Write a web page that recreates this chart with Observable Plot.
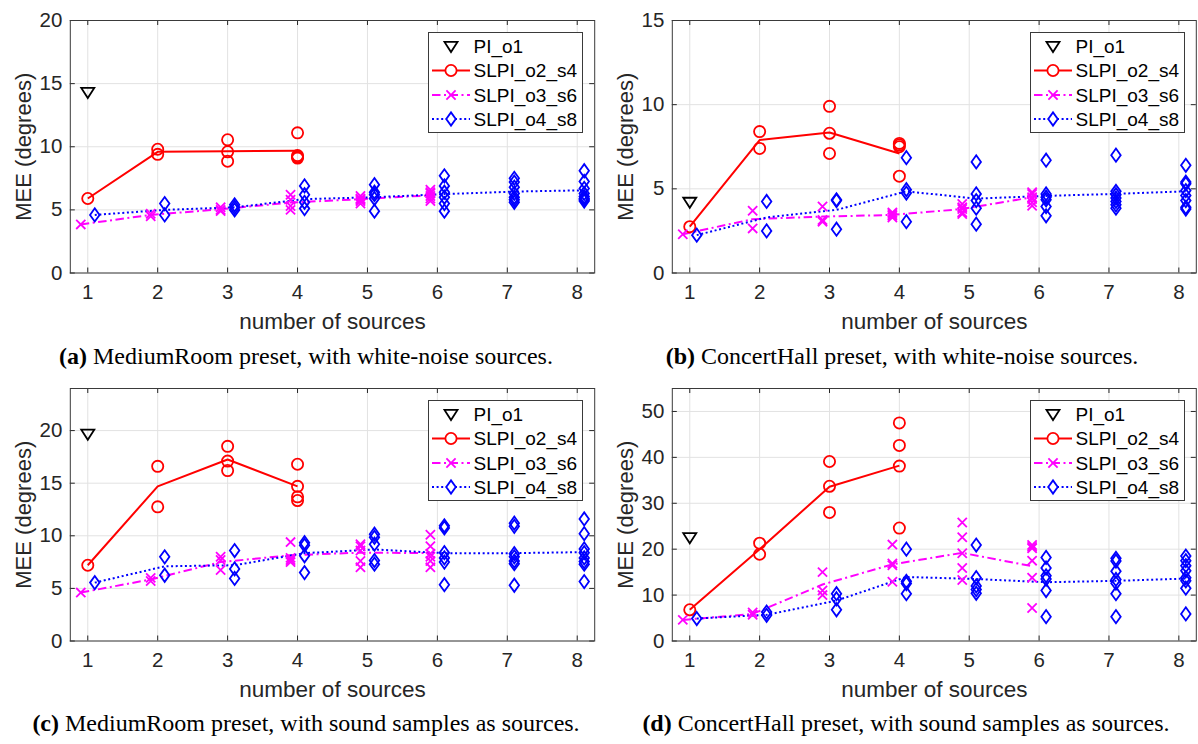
<!DOCTYPE html>
<html><head><meta charset="utf-8">
<script src="https://cdn.jsdelivr.net/npm/d3@7"></script>
<script src="https://cdn.jsdelivr.net/npm/@observablehq/plot@0.6"></script>
<style>
body{margin:0;background:#fff;}
#root{position:relative;width:1198px;height:744px;overflow:hidden;background:#fff;}
.panel{position:absolute;}
.cap{position:absolute;font-family:"Liberation Serif","Times New Roman",serif;font-size:24px;color:#000;white-space:nowrap;transform:translateX(-50%);line-height:1;}
</style></head><body><div id="root"></div>
<script>
// ---------- data ----------
const sources = [1,2,3,4,5,6,7,8];
const seriesNames = ["PI_o1","SLPI_o2_s4","SLPI_o3_s6","SLPI_o4_s8"];
const captions = [
  ["(a)", " MediumRoom preset, with white-noise sources."],
  ["(b)", " ConcertHall preset, with white-noise sources."],
  ["(c)", " MediumRoom preset, with sound samples as sources."],
  ["(d)", " ConcertHall preset, with sound samples as sources."]
];
const yTicksA = [0,5,10,15,20];
const yTicksB = [0,5,10,15];
const yTicksC = [0,5,10,15,20];
const yTicksD = [0,10,20,30,40,50];
const yMax = [20,15,24,55];

// (a) MediumRoom, white noise
const aPI = [14.3];
const aO2 = [[5.9],[9.8,9.4],[10.55,9.6,8.85],[11.1,9.3,9.2,9.1]];
const aO2mean = [5.9,9.6,9.65,9.68];
const aO3 = [[3.85],[4.7,4.5],[5.2,5.0,4.9],[6.2,5.8,5.3,5.0],[6.1,5.9,5.8,5.7,5.5],[6.6,6.4,6.3,6.1,5.9,5.7]];
const aO3mean = [3.85,4.6,5.05,5.58,5.85,6.15];
const aO4 = [[4.6],[5.5,4.6],[5.4,5.2,5.0],[6.9,6.2,5.6,5.1],[7.0,6.4,6.2,5.9,4.9],[7.7,6.9,6.4,6.0,5.5,4.9],[7.5,7.2,6.8,6.3,6.0,5.8,5.6],[8.1,7.25,6.7,6.3,6.05,5.9,5.8,5.7]];
const aO4mean = [4.6,5.0,5.2,5.85,6.0,6.25,6.45,6.55];

// (b) ConcertHall, white noise
const bPI = [4.2];
const bO2 = [[2.75],[8.4,7.4],[9.9,8.3,7.1],[7.7,7.6,7.5,5.75]];
const bO2mean = [2.75,7.9,8.35,7.1];
const bO3 = [[2.3],[3.7,2.65],[3.95,3.15,3.05],[3.6,3.5,3.4,3.3],[4.1,3.9,3.8,3.6,3.5],[4.8,4.7,4.5,4.4,4.2,4.0]];
const bO3mean = [2.3,3.2,3.35,3.45,3.8,4.5];
const bO4 = [[2.25],[4.25,2.5],[4.35,4.3,2.6],[6.85,4.95,4.75,3.05],[6.6,4.7,4.3,3.85,2.9],[6.7,4.7,4.5,4.35,3.95,3.4],[7.0,4.85,4.65,4.45,4.25,4.05,3.85],[6.4,5.4,5.3,4.9,4.6,4.3,3.9,3.8]];
const bO4mean = [2.25,3.3,3.75,4.85,4.42,4.58,4.7,4.85];

// (c) MediumRoom, sound samples
const cPI = [19.65];
const cO2 = [[7.2],[16.6,12.75],[18.5,17.1,16.2],[16.8,14.7,13.7,13.35]];
const cO2mean = [7.2,14.7,17.25,14.7];
const cO3 = [[4.6],[6.0,5.7],[8.0,7.7,6.75],[9.4,7.9,7.7,7.5],[9.2,9.0,8.6,7.6,7.0],[10.1,9.0,8.3,8.0,7.6,7.0]];
const cO3mean = [4.6,5.85,7.5,8.15,8.4,8.35];
const cO4 = [[5.55],[8.0,6.25],[8.6,6.85,5.95],[9.35,9.1,8.1,6.5],[10.15,9.85,9.2,7.65,7.3],[10.95,10.75,8.4,7.9,7.5,5.35],[11.2,10.9,8.3,8.0,7.6,7.35,5.3],[11.6,10.2,8.75,8.4,7.9,7.55,7.3,5.65]];
const cO4mean = [5.55,7.1,7.2,8.35,8.7,8.35,8.35,8.45];

// (d) ConcertHall, sound samples
const dPI = [22.5];
const dO2 = [[6.8],[21.3,18.9],[39.1,33.7,28.0],[47.5,42.6,38.1,24.6]];
const dO2mean = [6.8,20.0,33.6,38.2];
const dO3 = [[4.6],[6.2,5.7],[15.0,11.0,10.0],[21.0,16.9,16.5,12.9],[25.8,22.6,19.1,15.9,13.3],[20.9,20.5,20.2,17.5,13.8,7.2]];
const dO3mean = [4.6,5.9,12.3,16.7,19.2,16.3];
const dO4 = [[4.9],[6.3,5.6],[10.3,9.2,6.8],[20.0,13.0,12.5,10.3],[20.9,13.8,12.0,11.2,10.4],[18.2,15.9,14.2,13.5,11.0,5.3],[18.0,17.4,15.2,13.4,12.6,10.3,5.3],[18.5,17.5,16.4,15.3,13.8,13.1,11.5,5.9]];
const dO4mean = [4.9,5.7,8.8,13.95,13.5,12.8,13.1,13.6];

// ---------- styling ----------
const colors = ["#000000","#ff0000","#ff00ff","#0000ff"];
const offsets = [0,0,-0.1,0.1];
const dashes = [null,null,"8.5,3.5,2,3.5","2,2.6"];
const FONT = "'Liberation Sans', Arial, Helvetica, sans-serif";
const AXC = "#262626";

const symTriDown = {draw(ctx,size){const r=Math.sqrt(size/Math.PI);ctx.moveTo(-r,-0.7*r);ctx.lineTo(r,-0.7*r);ctx.lineTo(0,0.85*r);ctx.closePath();}};
const symCircle = {draw(ctx,size){const r=Math.sqrt(size/Math.PI);ctx.moveTo(r,0);ctx.arc(0,0,r,0,2*Math.PI);ctx.closePath();}};
const symTimes = {draw(ctx,size){const r=Math.sqrt(size/Math.PI);ctx.moveTo(-r,-r);ctx.lineTo(r,r);ctx.moveTo(-r,r);ctx.lineTo(r,-r);}};
const symDiamond = {draw(ctx,size){const r=Math.sqrt(size/Math.PI);ctx.moveTo(0,-r);ctx.lineTo(0.72*r,0);ctx.lineTo(0,r);ctx.lineTo(-0.72*r,0);ctx.closePath();}};
const symbols = [symTriDown,symCircle,symTimes,symDiamond];
const radii = [6.5,5.6,4.6,6.6];

const panels = [
  {pi:aPI,pts:[aO2,aO3,aO4],means:[aO2mean,aO3mean,aO4mean],yTicks:yTicksA,yMax:yMax[0],left:0,top:0,width:600,ml:69.8,mr:5.8,capX:306,capY:344},
  {pi:bPI,pts:[bO2,bO3,bO4],means:[bO2mean,bO3mean,bO4mean],yTicks:yTicksB,yMax:yMax[1],left:600,top:0,width:598,ml:71.8,mr:2.2,capX:902,capY:344},
  {pi:cPI,pts:[cO2,cO3,cO4],means:[cO2mean,cO3mean,cO4mean],yTicks:yTicksC,yMax:yMax[2],left:0,top:368,width:600,ml:69.8,mr:5.8,capX:306,capY:711},
  {pi:dPI,pts:[dO2,dO3,dO4],means:[dO2mean,dO3mean,dO4mean],yTicks:yTicksD,yMax:yMax[3],left:600,top:368,width:598,ml:71.8,mr:2.2,capX:906,capY:711}
];

const root = document.getElementById("root");
const H = 340, MT = 20, MB = 67.5;

panels.forEach((p, pi) => {
  const W = p.width - p.ml - p.mr;
  const AH = H - MT - MB;
  const piRows = p.pi.map(v => ({x: 1 + offsets[0], y: v}));
  const ptRows = [], meanRows = [];
  p.pts.forEach((groups, s) => {
    groups.forEach((vals, i) => vals.forEach(v => ptRows.push({s: s+1, x: sources[i] + offsets[s+1], y: v})));
  });
  p.means.forEach((m, s) => m.forEach((v, i) => meanRows.push({s: s+1, x: sources[i] + offsets[s+1], y: v})));

  const marks = [
    Plot.gridX(sources, {stroke: "#e2e2e2", strokeOpacity: 1, strokeWidth: 1}),
    Plot.gridY(p.yTicks, {stroke: "#e2e2e2", strokeOpacity: 1, strokeWidth: 1}),
  ];
  [1,2,3].forEach(s => {
    marks.push(Plot.line(meanRows.filter(d => d.s === s), {x: "x", y: "y", stroke: colors[s], strokeWidth: 2, strokeDasharray: dashes[s], strokeLinecap: "butt"}));
  });
  [1,2,3].forEach(s => {
    marks.push(Plot.dot(ptRows.filter(d => d.s === s), {x: "x", y: "y", symbol: symbols[s], r: radii[s], stroke: colors[s], fill: "none", strokeWidth: 1.8}));
  });
  marks.push(Plot.dot(piRows, {x: "x", y: "y", symbol: symbols[0], r: radii[0], stroke: colors[0], fill: "none", strokeWidth: 1.8}));
  marks.push(
    Plot.ruleX(sources, {stroke: AXC, insetTop: AH - 5}),
    Plot.ruleX(sources, {stroke: AXC, insetBottom: AH - 5}),
    Plot.ruleY(p.yTicks, {stroke: AXC, insetRight: W - 5}),
    Plot.ruleY(p.yTicks, {stroke: AXC, insetLeft: W - 5}),
    Plot.frame({stroke: "#3a3a3a", strokeWidth: 1}),
    Plot.axisX(sources, {anchor: "bottom", tickSize: 0, tickPadding: 11, label: null, fill: AXC, fontSize: 20.5}),
    Plot.axisY(p.yTicks, {anchor: "left", tickSize: 0, tickPadding: 8, label: null, fill: AXC, fontSize: 20.5}),
    Plot.text(["number of sources"], {text: d => d, frameAnchor: "bottom", textAnchor: "middle", lineAnchor: "middle", dy: 49, fill: AXC, fontSize: 22.5}),
    Plot.text(["MEE (degrees)"], {text: d => d, frameAnchor: "left", textAnchor: "middle", lineAnchor: "middle", dx: -46, rotate: -90, fill: AXC, fontSize: 22})
  );

  const chart = Plot.plot({
    width: p.width, height: H,
    marginTop: MT, marginBottom: MB, marginLeft: p.ml, marginRight: p.mr,
    x: {domain: [0.75, 8.25]},
    y: {domain: [0, p.yMax]},
    style: {fontFamily: FONT, fontSize: "20.5px", color: AXC, background: "transparent", overflow: "visible"},
    marks
  });
  const div = document.createElement("div");
  div.className = "panel";
  div.style.left = p.left + "px";
  div.style.top = p.top + "px";
  div.appendChild(chart);
  root.appendChild(div);

  // legend (inside axes, top-right)
  const lw = 154, lh = 100;
  const axRight = p.left + p.width - p.mr;
  const lg = d3.create("svg").attr("width", lw + 2).attr("height", lh + 2)
    .style("position", "absolute").style("left", (axRight - 12 - lw) + "px").style("top", (p.top + MT + 12) + "px")
    .style("overflow", "visible").style("font-family", FONT);
  lg.append("rect").attr("x", 0.5).attr("y", 0.5).attr("width", lw).attr("height", lh)
    .attr("fill", "#fff").attr("stroke", "#3a3a3a").attr("stroke-width", 1);
  const rowsY = [14.5, 38.5, 63, 87];
  seriesNames.forEach((name, i) => {
    const g = lg.append("g").attr("transform", `translate(0,${rowsY[i]})`);
    if (i > 0) g.append("line").attr("x1", 4).attr("x2", 42).attr("y1", 0).attr("y2", 0)
      .attr("stroke", colors[i]).attr("stroke-width", 2).attr("stroke-dasharray", dashes[i]);
    g.append("path").attr("transform", "translate(23,0)")
      .attr("d", d3.symbol(symbols[i], Math.PI * radii[i] * radii[i])())
      .attr("fill", i === 0 ? "none" : "#fff").attr("stroke", colors[i]).attr("stroke-width", 1.8);
    g.append("text").attr("x", 45.5).attr("dy", "0.35em").attr("fill", "#000").attr("font-size", 19).text(name);
  });
  root.appendChild(lg.node());

  const cap = document.createElement("div");
  cap.className = "cap";
  cap.style.left = p.capX + "px";
  cap.style.top = p.capY + "px";
  const b = document.createElement("b");
  b.textContent = captions[pi][0];
  cap.appendChild(b);
  cap.appendChild(document.createTextNode(captions[pi][1]));
  root.appendChild(cap);
});
</script></body></html>
